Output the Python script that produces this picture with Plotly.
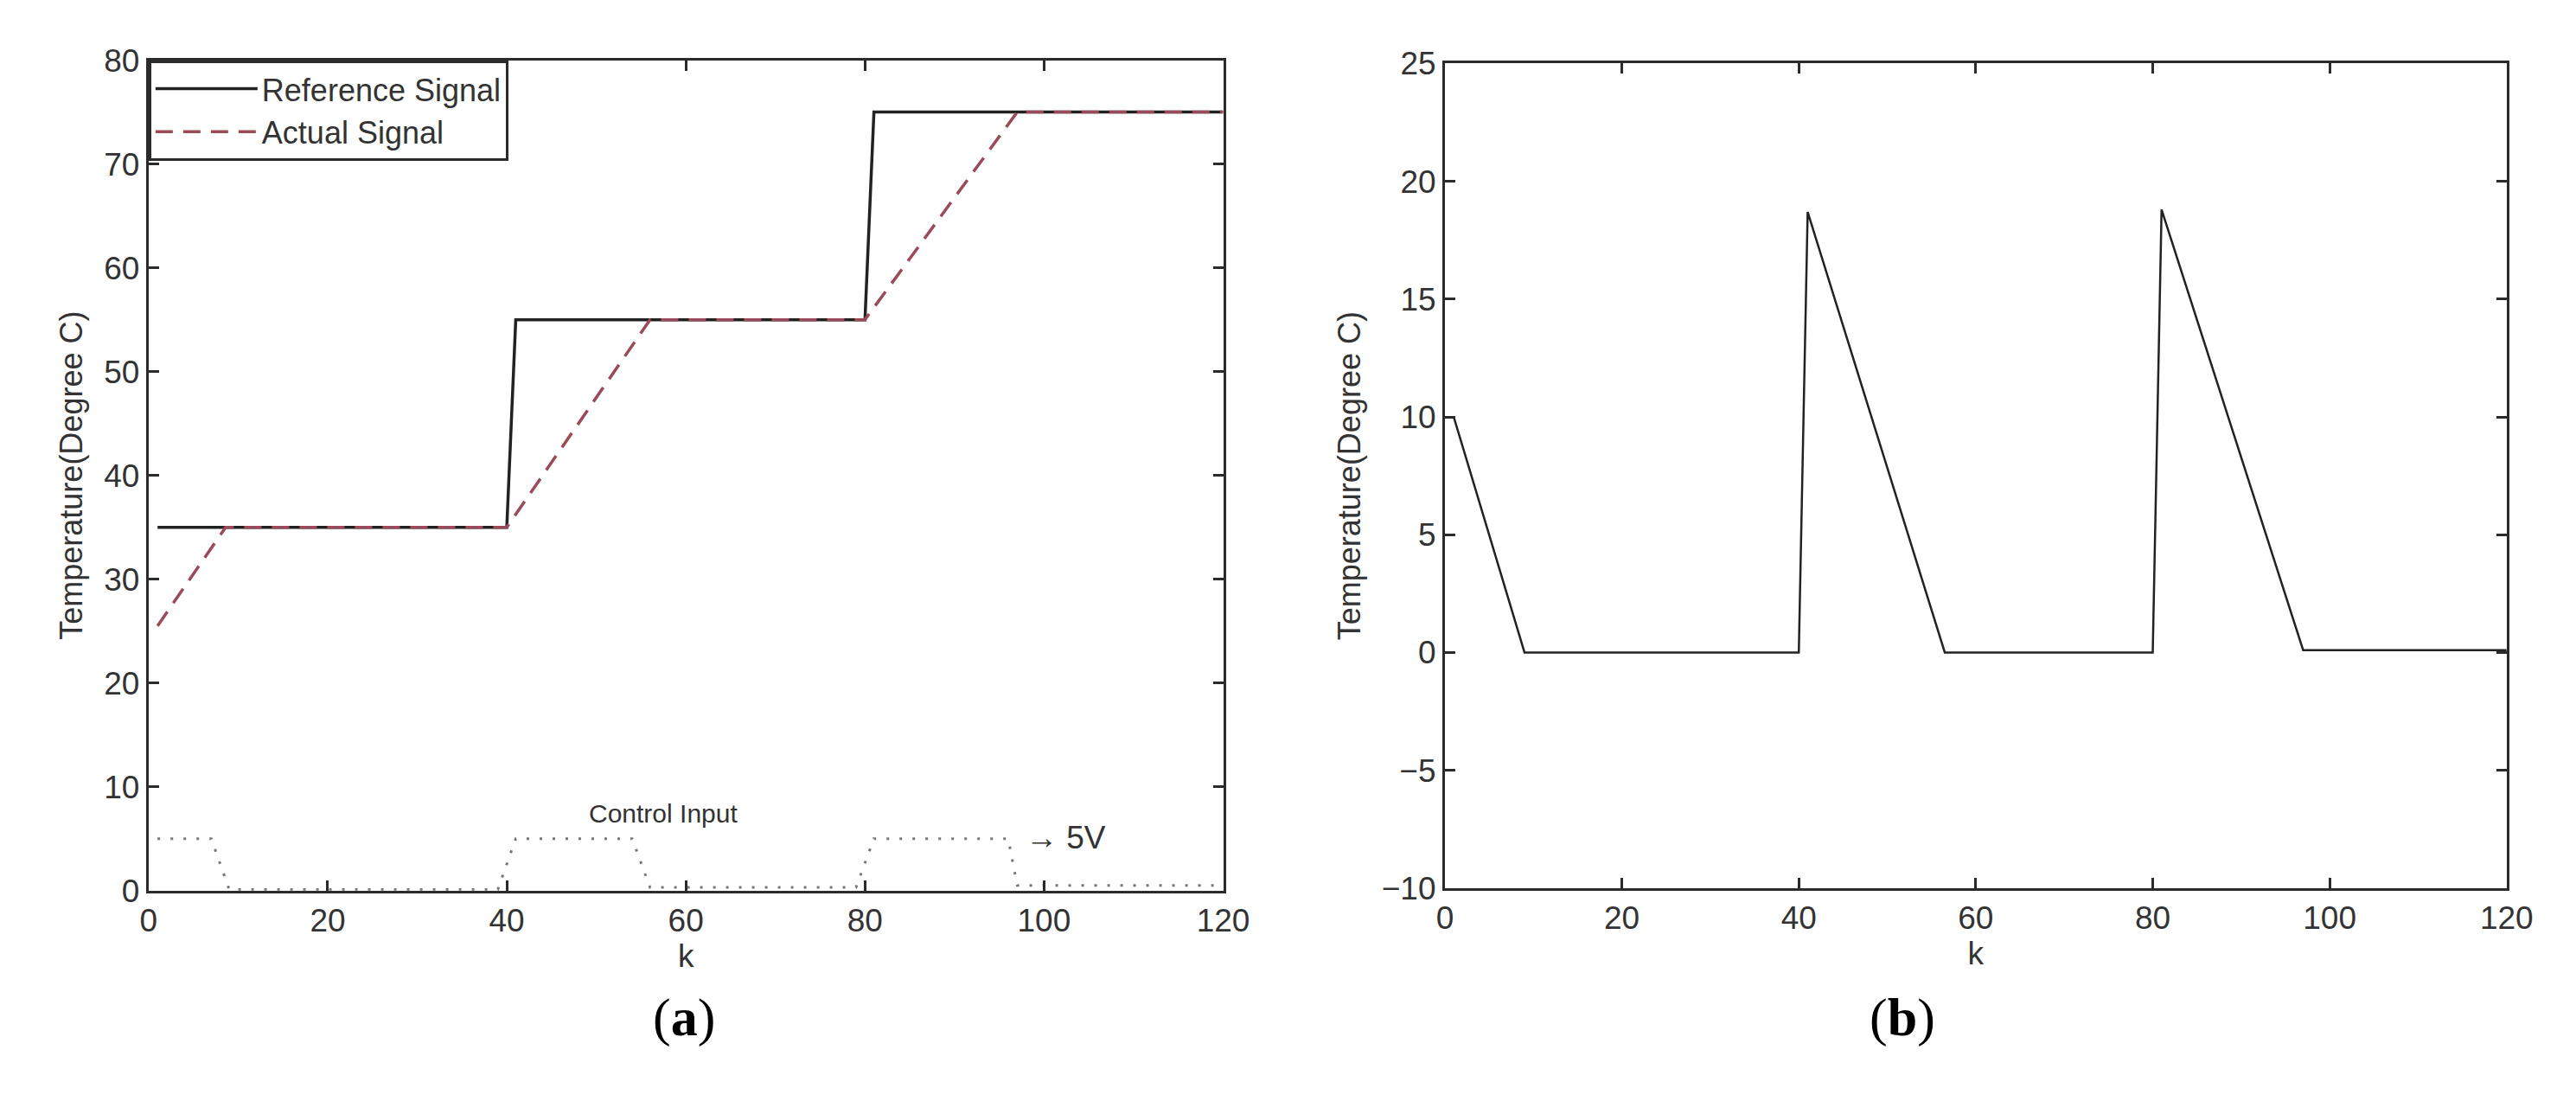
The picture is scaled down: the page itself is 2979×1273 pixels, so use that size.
import plotly.graph_objects as go

# ---- data ----
ref_k = [1, 40, 41, 80, 81, 120]
ref_temp = [35, 35, 55, 55, 75, 75]

act_k = [1, 8.6, 40, 56, 80, 97, 120]
act_temp = [25.5, 35, 35, 55, 55, 75, 75]

ctl_k = [1, 7, 9, 39, 41, 54, 56, 79, 81, 96, 97, 120]
ctl_v = [5, 5, 0.1, 0.1, 5, 5, 0.3, 0.3, 5, 5, 0.5, 0.5]

err_k = [1, 9, 40, 41, 56.5, 80, 81, 97, 120]
err_temp = [10, 0, 0, 18.7, 0, 0, 18.8, 0.1, 0.1]

left_xticks = [0, 20, 40, 60, 80, 100, 120]
left_yticks = [0, 10, 20, 30, 40, 50, 60, 70, 80]
right_yticks = [-10, -5, 0, 5, 10, 15, 20, 25]

W, H = 2979, 1273
FONT = "Liberation Sans, Arial, sans-serif"
AX = "#2b2b2b"

fig = go.Figure()

fig.add_trace(go.Scatter(x=ref_k, y=ref_temp, mode="lines", name="Reference Signal",
                         line=dict(color="#222222", width=3.5), xaxis="x", yaxis="y"))
fig.add_trace(go.Scatter(x=act_k, y=act_temp, mode="lines", name="Actual Signal",
                         line=dict(color="#9a4a58", width=3.5, dash="20px,12px"),
                         xaxis="x", yaxis="y"))
fig.add_trace(go.Scatter(x=ctl_k, y=ctl_v, mode="lines", name="Control Input",
                         showlegend=False,
                         line=dict(color="#777777", width=3, dash="3px,12px"),
                         xaxis="x", yaxis="y"))
fig.add_trace(go.Scatter(x=err_k, y=err_temp, mode="lines", name="Error",
                         showlegend=False,
                         line=dict(color="#222222", width=2.5),
                         xaxis="x2", yaxis="y2"))

def axis_style(**kw):
    d = dict(showline=True, linecolor=AX, linewidth=3, mirror="ticks",
             ticks="inside", ticklen=12, tickwidth=2.5, tickcolor=AX,
             showgrid=False, zeroline=False,
             tickfont=dict(family=FONT, size=37, color="#333333"),
             title_font=dict(family=FONT, size=37, color="#333333"))
    d.update(kw)
    return d

fig.update_layout(
    width=W, height=H,
    margin=dict(l=0, r=0, t=0, b=0),
    paper_bgcolor="white", plot_bgcolor="white",
    xaxis=axis_style(domain=[156 / W, 1416 / W], range=[0, 120],
                     tickvals=left_xticks, title_text="k", title_standoff=4,
                     anchor="y"),
    yaxis=axis_style(domain=[(H - 1035) / H, (H - 43) / H], range=[0, 80],
                     tickvals=left_yticks, title_text="Temperature(Degree C)",
                     title_standoff=14, title_font=dict(family=FONT, size=36, color="#333333"),
                     anchor="x"),
    xaxis2=axis_style(domain=[1676 / W, 2921 / W], range=[0, 120],
                      tickvals=left_xticks, title_text="k", title_standoff=4,
                      anchor="y2"),
    yaxis2=axis_style(domain=[(H - 1032) / H, (H - 47) / H], range=[-10, 25],
                      tickvals=right_yticks, title_text="Temperature(Degree C)",
                      title_standoff=14, title_font=dict(family=FONT, size=36, color="#333333"),
                      anchor="x2"),
    showlegend=True,
    legend=dict(x=156 / W, y=(H - 43) / H, xanchor="left", yanchor="top",
                bgcolor="white", bordercolor=AX, borderwidth=3,
                font=dict(family=FONT, size=36, color="#333333"),
                itemwidth=118, tracegroupgap=0),
)

fig.add_annotation(x=57.5, y=7.4, xref="x", yref="y", text="Control Input",
                   showarrow=False, font=dict(family=FONT, size=30, color="#333333"))
fig.add_annotation(x=97.7, y=5.1, xref="x", yref="y", text="\u2192 5V",
                   xanchor="left", showarrow=False,
                   font=dict(family=FONT, size=37, color="#333333"))

fig.add_annotation(x=745 / W, y=(H - 1224) / H, xref="paper", yref="paper",
                   text="(<b>a</b>)", showarrow=False,
                   font=dict(family="Liberation Serif, serif", size=62, color="black"))
fig.add_annotation(x=2253 / W, y=(H - 1224) / H, xref="paper", yref="paper",
                   text="(<b>b</b>)", showarrow=False,
                   font=dict(family="Liberation Serif, serif", size=62, color="black"))

fig.write_html("out.html")
